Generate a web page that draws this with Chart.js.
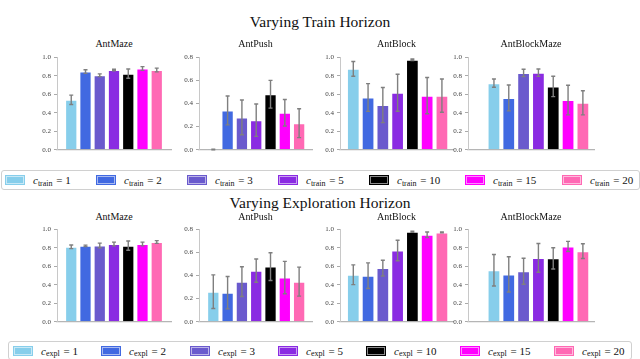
<!DOCTYPE html>
<html>
<head>
<meta charset="utf-8">
<script src="https://cdn.jsdelivr.net/npm/chart.js"></script>
<style>
  body { margin: 0; background: #fff; }
  #wrap { position: relative; width: 640px; height: 359px; overflow: hidden; background: #fff; font-family: "Liberation Serif", "DejaVu Serif", serif; color: #111; }
  .big { position: absolute; left: 0; width: 640px; text-align: center; font-size: 15.5px; }
  .sub { position: absolute; width: 160px; text-align: center; font-size: 10px; }
  canvas { position: absolute; }
  .legend { position: absolute; border: 1px solid #d0d0d0; border-radius: 3px; background: #fff; }
  .item { position: absolute; top: 0; height: 100%; display: flex; align-items: center; white-space: nowrap; font-size: 11px; }
  .patch { display: inline-block; width: 18px; height: 8px; margin-right: 8px; box-shadow: inset 0 0 0 1px rgba(255,255,255,0.55); }
  .low { position: relative; top: 3px; font-size: 8px; margin-right: 1px; }
</style>
</head>
<body>
<div id="wrap">
  <div class="big" style="top:13px">Varying Train Horizon</div>
  <div class="big" style="top:194px">Varying Exploration Horizon</div>
</div>
<script>
// === Donnees ===
const envs = ["AntMaze", "AntPush", "AntBlock", "AntBlockMaze"];
const horizons = ["1", "2", "3", "5", "10", "15", "20"];
const colors = ["#87CEEB", "#4169E1", "#6A5ACD", "#8A2BE2", "#000000", "#FF00FF", "#FF69B4"];
const yTicks = [0, 0.2, 0.4, 0.6, 0.8, 1.0];

// Varying Train Horizon
const trainAntMaze = [0.54, 0.845, 0.805, 0.862, 0.822, 0.878, 0.862];
const trainAntMazeErr = [0.05, 0.02, 0.015, 0.008, 0.05, 0.02, 0.02];
const trainAntPush = [0.003, 0.34, 0.28, 0.256, 0.48, 0.32, 0.23];
const trainAntPushErr = [0.003, 0.125, 0.15, 0.14, 0.12, 0.115, 0.125];
const trainAntBlock = [0.874, 0.565, 0.483, 0.616, 0.972, 0.585, 0.585];
const trainAntBlockErr = [0.08, 0.15, 0.19, 0.2, 0.008, 0.195, 0.18];
const trainAntBlockMaze = [0.72, 0.56, 0.83, 0.833, 0.684, 0.537, 0.507];
const trainAntBlockMazeErr = [0.045, 0.14, 0.04, 0.04, 0.11, 0.16, 0.13];

// Varying Exploration Horizon
const explAntMaze = [0.81, 0.82, 0.825, 0.84, 0.822, 0.84, 0.862];
const explAntMazeErr = [0.02, 0.008, 0.025, 0.02, 0.05, 0.02, 0.015];
const explAntPush = [0.26, 0.252, 0.347, 0.442, 0.477, 0.382, 0.347];
const explAntPushErr = [0.145, 0.14, 0.128, 0.1, 0.12, 0.14, 0.125];
const explAntBlock = [0.508, 0.498, 0.58, 0.77, 0.972, 0.94, 0.965];
const explAntBlockErr = [0.107, 0.138, 0.085, 0.11, 0.006, 0.03, 0.005];
const explAntBlockMaze = [0.556, 0.512, 0.546, 0.69, 0.685, 0.814, 0.763];
const explAntBlockMazeErr = [0.17, 0.19, 0.14, 0.155, 0.115, 0.055, 0.08];

// === Mise en page (pixels) ===
const axLeft = [57, 199, 340, 468];
const axRight = [171, 312, 453, 594];
const xMin = [-1, -1, -0.9, -1.75];
const xMax = [7, 6.9, 6.75, 6.75];
const rowTop = [56, 228];
const rowBottom = [154, 326];
const titleTop = [38, 211];

const wrap = document.getElementById("wrap");

// barres d'erreur dessinees avec les echelles du graphique
const errPlugin = {
  id: "errbars",
  afterDatasetsDraw(chart) {
    const ds = chart.data.datasets[0];
    const meta = chart.getDatasetMeta(0);
    const ys = chart.scales.y;
    const ctx = chart.ctx;
    ctx.save();
    ctx.strokeStyle = "#7f7f7f";
    ctx.lineWidth = 1.4;
    meta.data.forEach((bar, i) => {
      const v = ds.data[i].y, e = ds.errs[i];
      const y1 = ys.getPixelForValue(v - e), y2 = ys.getPixelForValue(v + e);
      ctx.beginPath();
      ctx.moveTo(bar.x, y1); ctx.lineTo(bar.x, y2);
      ctx.moveTo(bar.x - 2, y1); ctx.lineTo(bar.x + 2, y1);
      ctx.moveTo(bar.x - 2, y2); ctx.lineTo(bar.x + 2, y2);
      ctx.stroke();
    });
    ctx.restore();
  }
};

function panel(row, col, values, errs) {
  const name = envs[col];
  const ymax = name === "AntPush" ? 0.8 : 1.0;
  const padL = 30, padT = 6, padB = 3, padR = 3;
  const c = document.createElement("canvas");
  const w = axRight[col] - axLeft[col] + padL + padR;
  const h = rowBottom[row] - rowTop[row] + padT + padB;
  c.width = w; c.height = h;
  c.style.left = (axLeft[col] - padL) + "px";
  c.style.top = (rowTop[row] - padT) + "px";
  wrap.appendChild(c);

  const t = document.createElement("div");
  t.className = "sub";
  t.textContent = name;
  t.style.left = ((axLeft[col] + axRight[col]) / 2 - 80) + "px";
  t.style.top = titleTop[row] + "px";
  wrap.appendChild(t);

  new Chart(c, {
    type: "bar",
    data: {
      datasets: [{
        data: values.map((v, i) => ({ x: i, y: v })),
        errs: errs,
        backgroundColor: colors,
        borderColor: "rgba(255,255,255,0.7)",
        borderWidth: 1,
        categoryPercentage: 1,
        barPercentage: 0.86
      }]
    },
    options: {
      responsive: false,
      animation: false,
      events: [],
      layout: { padding: { top: padT, bottom: padB, left: 0, right: padR } },
      plugins: { legend: { display: false }, tooltip: { enabled: false } },
      scales: {
        x: {
          type: "linear", min: xMin[col], max: xMax[col], offset: false,
          ticks: { display: false },
          grid: { display: false },
          border: { display: true, color: "#b5b5b5", width: 1.2 },
          afterFit: s => { s.height = 0; }
        },
        y: {
          min: 0, max: ymax,
          afterBuildTicks: s => { s.ticks = yTicks.filter(v => v <= ymax + 1e-9).map(v => ({ value: v })); },
          ticks: { callback: v => Number(v).toFixed(1), font: { family: "'Liberation Serif', serif", size: 7 }, color: "#444", padding: 3 },
          grid: { drawOnChartArea: false, drawTicks: true, tickLength: 3, color: "#aaa" },
          border: { display: true, color: "#c8c8c8", width: 1 },
          afterFit: s => { s.width = padL; }
        }
      }
    },
    plugins: [errPlugin]
  });
}

panel(0, 0, trainAntMaze, trainAntMazeErr);
panel(0, 1, trainAntPush, trainAntPushErr);
panel(0, 2, trainAntBlock, trainAntBlockErr);
panel(0, 3, trainAntBlockMaze, trainAntBlockMazeErr);
panel(1, 0, explAntMaze, explAntMazeErr);
panel(1, 1, explAntPush, explAntPushErr);
panel(1, 2, explAntBlock, explAntBlockErr);
panel(1, 3, explAntBlockMaze, explAntBlockMazeErr);

// === Legendes ===
function legende(sub, box, xs) {
  const lg = document.createElement("div");
  lg.className = "legend";
  lg.style.left = box[0] + "px"; lg.style.top = box[1] + "px";
  lg.style.width = box[2] + "px"; lg.style.height = box[3] + "px";
  horizons.forEach((hz, i) => {
    const it = document.createElement("div");
    it.className = "item";
    it.style.left = (xs[i] - box[0]) + "px";
    it.innerHTML = `<span class="patch" style="background:${colors[i]};border:1px solid ${colors[i]}"></span><i>c</i><span class="low">${sub}</span>&nbsp;=&nbsp;${hz}`;
    lg.appendChild(it);
  });
  wrap.appendChild(lg);
}
legende("train", [1, 170, 637, 18], [4, 95, 186, 277, 368, 464, 561]);
legende("expl", [8, 341, 622, 17], [12, 100, 189, 277, 365, 459, 553]);
</script>
</body>
</html>
